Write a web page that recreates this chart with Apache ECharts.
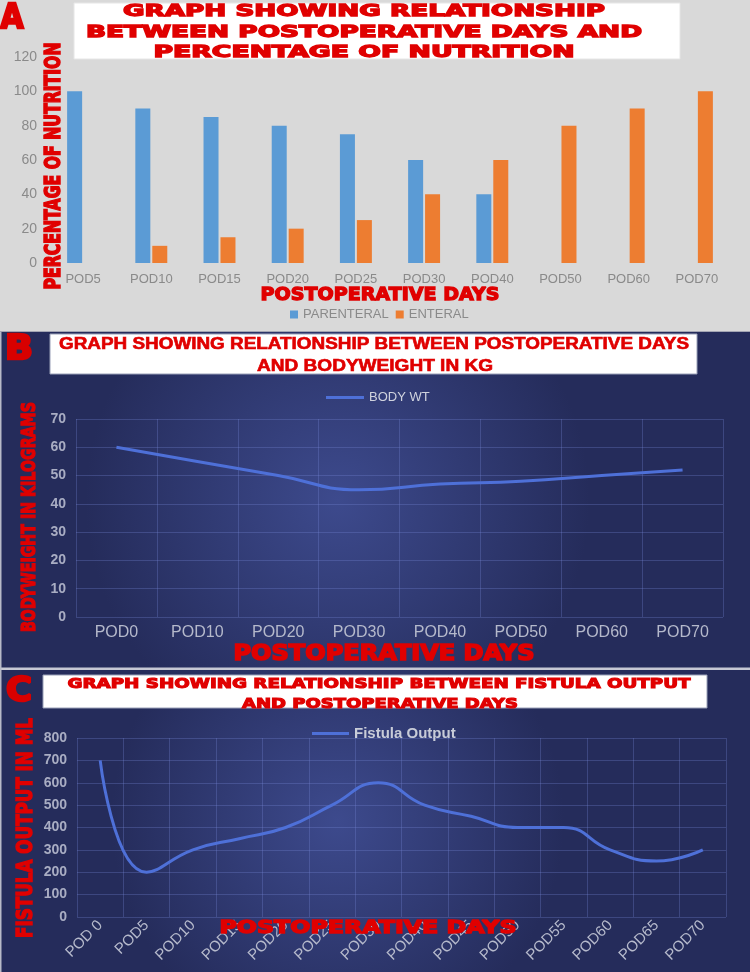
<!DOCTYPE html>
<html><head><meta charset="utf-8">
<script src="https://cdn.jsdelivr.net/npm/echarts@6/dist/echarts.min.js"></script>
<style>html,body{margin:0;padding:0;background:#fff}#c{width:750px;height:972px}</style>
</head><body><div id="c"></div>
<script>
// ---- data ----
const nutritionDays = ['POD5','POD10','POD15','POD20','POD25','POD30','POD40','POD50','POD60','POD70'];
const parenteral = [100,90,85,80,75,60,40,0,0,0];
const enteral = [0,10,15,20,25,40,60,80,90,100];
const nutritionTicks = [0,20,40,60,80,100,120];

const weightDays = ['POD0','POD10','POD20','POD30','POD40','POD50','POD60','POD70'];
const bodyWeight = [60,55,50,45,47,48,50,52];
const weightTicks = [0,10,20,30,40,50,60,70];

const fistulaDays = ['POD 0','POD5','POD10','POD15','POD20','POD25','POD30','POD40','POD45','POD50','POD55','POD60','POD65','POD70'];
const fistulaOutput = [700,200,300,350,400,500,600,500,450,400,400,300,250,300];
const fistulaTicks = [0,100,200,300,400,500,600,700,800];

// ---- text fitting helper ----
const mctx = document.createElement('canvas').getContext('2d');
function fit(text, cx, cy, size, family, w, color, rot, stroke) {
  const font = 'bold ' + size + 'px ' + family;
  mctx.font = font;
  const mw = mctx.measureText(text).width;
  const st = { text: text, font: font, fill: color, textAlign: 'center', textVerticalAlign: 'middle', align: 'center', verticalAlign: 'middle' };
  if (stroke) { st.stroke = color; st.lineWidth = stroke; }
  return { type: 'text', x: cx, y: cy, rotation: rot || 0, scaleX: w / mw, z: 100, style: st };
}
const RED = '#e00000';
const HEAVY = '"DejaVu Sans"';
const COND = '"Liberation Sans"';

function navyBg(y, h) {
  return {
    type: 'rect', z: -10, shape: { x: 0, y: y, width: 750, height: h },
    style: { fill: new echarts.graphic.RadialGradient(0.45, 0.5, 0.75, [
      { offset: 0, color: '#3d4a8d' }, { offset: 1, color: '#252c5b' }]) }
  };
}

const graphics = [
  { type: 'rect', z: -10, shape: { x: 0, y: 0, width: 750, height: 331 }, style: { fill: '#d9d9d9' } },
  { type: 'rect', z: -10, shape: { x: 0, y: 331, width: 750, height: 1.5 }, style: { fill: '#a3a5b3' } },
  navyBg(332, 336),
  { type: 'rect', z: -9, shape: { x: 0, y: 667.5, width: 750, height: 2.5 }, style: { fill: '#c6c8d4' } },
  navyBg(670, 302),
  { type: 'rect', z: -9, shape: { x: 0, y: 332, width: 1.5, height: 640 }, style: { fill: '#b8bac8' } },
  // title boxes
  { type: 'rect', z: 50, shape: { x: 74, y: 3, width: 606, height: 56 }, style: { fill: '#ffffff', stroke: '#e6e6e6', lineWidth: 1 } },
  { type: 'rect', z: 50, shape: { x: 50, y: 334, width: 647, height: 40 }, style: { fill: '#ffffff', stroke: '#9aa0b8', lineWidth: 1 } },
  { type: 'rect', z: 50, shape: { x: 43, y: 675, width: 664, height: 33 }, style: { fill: '#ffffff', stroke: '#9aa0b8', lineWidth: 1 } },
  // panel letters
  fit('A', 12, 19, 34, HEAVY, 23, RED, 0, 2.5),
  fit('B', 19, 350, 33, HEAVY, 28, '#d80000', 0, 2.5),
  fit('C', 19, 692, 34, HEAVY, 26, '#d80000', 0, 2.5),
  // panel A titles
  fit('GRAPH SHOWING RELATIONSHIP', 364, 12, 16, HEAVY, 482, RED, 0, 1.3),
  fit('BETWEEN POSTOPERATIVE DAYS AND', 364, 33, 16, HEAVY, 556, RED, 0, 1.3),
  fit('PERCENTAGE OF NUTRITION', 364, 53, 16, HEAVY, 421, RED, 0, 1.3),
  fit('POSTOPERATIVE DAYS', 380, 295.5, 18, HEAVY, 239, RED, 0, 1.3),
  fit('PERCENTAGE OF NUTRITION', 55, 166, 21, HEAVY, 247, RED, Math.PI / 2, 1.5),
  // panel B titles
  fit('GRAPH SHOWING RELATIONSHIP BETWEEN POSTOPERATIVE DAYS', 374, 344.5, 16, COND, 630, RED, 0, 0.6),
  fit('AND BODYWEIGHT IN KG', 375, 367, 16, COND, 236, RED, 0, 0.6),
  fit('POSTOPERATIVE DAYS', 384, 655, 21, HEAVY, 301, RED, 0, 1.6),
  fit('BODYWEIGHT IN KILOGRAMS', 30, 517, 19, HEAVY, 230, RED, Math.PI / 2, 1.3),
  // panel C titles
  fit('GRAPH SHOWING RELATIONSHIP BETWEEN FISTULA OUTPUT', 379, 684, 14, HEAVY, 623, RED, 0, 1.1),
  fit('AND POSTOPERATIVE DAYS', 380, 704, 14, HEAVY, 276, RED, 0, 1.1),
  fit('POSTOPERATIVE DAYS', 368, 928.5, 18, HEAVY, 297, RED, 0, 1.4),
  fit('FISTULA OUTPUT IN ML', 26, 828, 22, HEAVY, 220, RED, Math.PI / 2, 1.5)
];

const gridLine = { show: true, lineStyle: { color: 'rgba(120,135,215,0.30)', width: 1 } };
const FONT = 'Liberation Sans';

const option = {
  animation: false,
  graphic: { elements: graphics },
  grid: [
    { left: 49, right: 19, top: 57, height: 206 },
    { left: 76, right: 27, top: 419, height: 198 },
    { left: 77, right: 24, top: 738, height: 179 }
  ],
  legend: [
    { data: ['PARENTERAL', 'ENTERAL'], left: 285, top: 303, icon: 'rect', itemWidth: 8, itemHeight: 8, itemGap: 7,
      textStyle: { color: '#8a8a8a', fontSize: 13, fontFamily: FONT } },
    { data: ['BODY WT'], left: 321, top: 386, icon: 'rect', itemWidth: 38, itemHeight: 3,
      textStyle: { color: '#d0d3de', fontSize: 13, fontFamily: FONT } },
    { data: ['Fistula Output'], left: 307, top: 721, icon: 'rect', itemWidth: 37, itemHeight: 3,
      textStyle: { color: '#c8ccd8', fontSize: 15, fontWeight: 'bold', fontFamily: FONT } }
  ],
  xAxis: [
    { type: 'category', gridIndex: 0, data: nutritionDays, axisLine: { show: false }, axisTick: { show: false },
      axisLabel: { color: '#8a8a8a', fontSize: 13, margin: 10, interval: 0, fontFamily: FONT } },
    { type: 'category', gridIndex: 1, data: weightDays, boundaryGap: true, axisLine: { show: false }, axisTick: { show: false },
      splitLine: Object.assign({ interval: 0 }, gridLine),
      axisLabel: { color: '#b5b9cb', fontSize: 16, margin: 8, interval: 0, fontFamily: FONT } },
    { type: 'category', gridIndex: 2, data: fistulaDays, boundaryGap: true, axisLine: { show: false }, axisTick: { show: false },
      splitLine: Object.assign({ interval: 0 }, gridLine),
      axisLabel: { color: '#b5b9cb', fontSize: 15, margin: 6, interval: 0, rotate: 45, fontFamily: FONT } }
  ],
  yAxis: [
    { type: 'value', gridIndex: 0, min: nutritionTicks[0], max: nutritionTicks[nutritionTicks.length - 1], interval: 20,
      splitLine: { show: false }, axisLine: { show: false }, axisTick: { show: false },
      axisLabel: { color: '#8a8a8a', fontSize: 14, margin: 12, fontFamily: FONT } },
    { type: 'value', gridIndex: 1, min: weightTicks[0], max: weightTicks[weightTicks.length - 1], interval: 10,
      splitLine: gridLine, axisLine: { show: false }, axisTick: { show: false },
      axisLabel: { color: '#a9adc3', fontSize: 14, fontWeight: 'bold', margin: 10, fontFamily: FONT } },
    { type: 'value', gridIndex: 2, min: fistulaTicks[0], max: fistulaTicks[fistulaTicks.length - 1], interval: 100,
      splitLine: gridLine, axisLine: { show: false }, axisTick: { show: false },
      axisLabel: { color: '#a9adc3', fontSize: 14, fontWeight: 'bold', margin: 10, fontFamily: FONT } }
  ],
  series: [
    { name: 'PARENTERAL', type: 'bar', xAxisIndex: 0, yAxisIndex: 0, data: parenteral, barWidth: 15, barGap: '13%',
      itemStyle: { color: '#5b9bd5' } },
    { name: 'ENTERAL', type: 'bar', xAxisIndex: 0, yAxisIndex: 0, data: enteral, barWidth: 15,
      itemStyle: { color: '#ed7d31' } },
    { name: 'BODY WT', type: 'line', xAxisIndex: 1, yAxisIndex: 1, data: bodyWeight, smooth: true, symbol: 'none',
      lineStyle: { color: '#4e70d8', width: 3 }, itemStyle: { color: '#4e70d8' } },
    { name: 'Fistula Output', type: 'line', xAxisIndex: 2, yAxisIndex: 2, data: fistulaOutput, smooth: true, symbol: 'none',
      lineStyle: { color: '#4e70d8', width: 3 }, itemStyle: { color: '#4e70d8' } }
  ]
};
const chart = echarts.init(document.getElementById('c'));
chart.setOption(option);
</script></body></html>
